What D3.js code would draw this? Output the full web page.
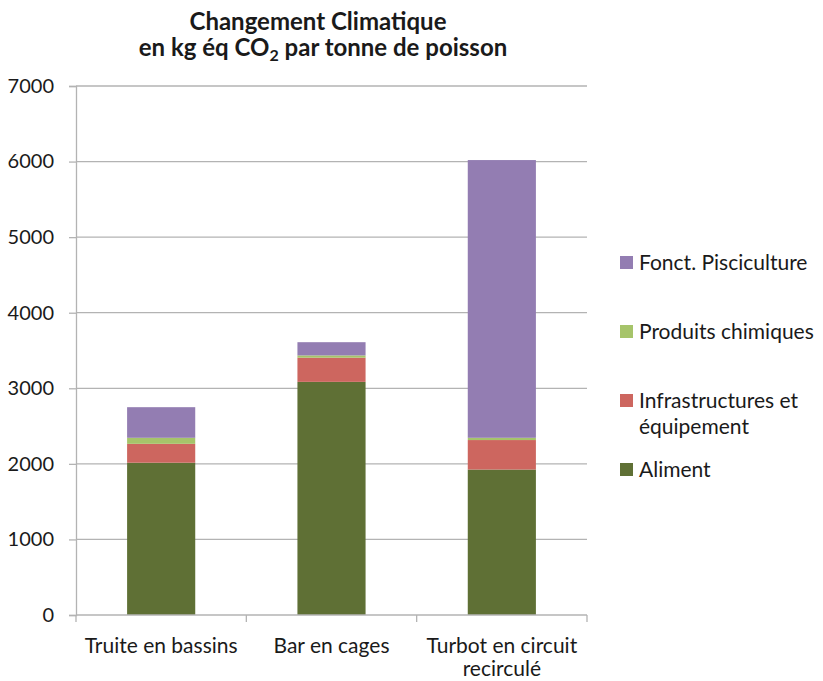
<!DOCTYPE html>
<html>
<head>
<meta charset="utf-8">
<script src="https://cdn.jsdelivr.net/npm/d3@7"></script>
<style>
body { margin: 0; background: #fff; }
text { font-family: Lato, "Open Sans", sans-serif; fill: #1a1a1a; }
</style>
</head>
<body>
<div id="chart"></div>
<script>
var categories = [["Truite en bassins"], ["Bar en cages"], ["Turbot en circuit", "recirculé"]];
var seriesNames = ["Aliment", "Infrastructures et équipement", "Produits chimiques", "Fonct. Pisciculture"];
var aliment = [2015, 3085, 1925];
var infra = [250, 320, 390];
var chimie = [80, 30, 30];
var fonct = [405, 175, 3675];
var yTicks = [0, 1000, 2000, 3000, 4000, 5000, 6000, 7000];
var colors = ["#5f7035", "#cd665f", "#a6c46a", "#937db2"];

var width = 823, height = 681;
var svg = d3.select("#chart").append("svg")
    .attr("width", width)
    .attr("height", height);

var x = d3.scaleBand()
    .domain(d3.range(categories.length))
    .range([76, 587])
    .paddingInner(0.6)
    .paddingOuter(0.3);
var y = d3.scaleLinear().domain([0, 7000]).range([615, 86]);

// gridlines
svg.append("g").selectAll("line")
    .data(yTicks.slice(1))
    .enter()
    .append("line")
    .attr("x1", 76).attr("x2", 587)
    .attr("y1", function(d){return y(d);})
    .attr("y2", function(d){return y(d);})
    .style("stroke", "#b3b3b3")
    .style("stroke-width", 1.3);

// stacked data
var rows = categories.map(function(c, i){
    return {i: i, a: aliment[i], b: infra[i], c: chimie[i], d: fonct[i]};
});
var stack = d3.stack().keys(["a", "b", "c", "d"]);
var layers = stack(rows);

svg.append("g").selectAll("g")
    .data(layers)
    .enter()
    .append("g")
    .style("fill", function(d, i){return colors[i];})
    .selectAll("rect")
    .data(function(d){return d;})
    .enter()
    .append("rect")
    .attr("x", function(d){return x(d.data.i);})
    .attr("width", x.bandwidth())
    .attr("y", function(d){return y(d[1]);})
    .attr("height", function(d){return y(d[0]) - y(d[1]);});

// y axis
var yAxis = svg.append("g")
    .attr("transform", "translate(76,0)")
    .call(d3.axisLeft(y).tickValues(yTicks).tickSize(7).tickPadding(15).tickFormat(d3.format("d")));
yAxis.select(".domain").style("stroke", "#b3b3b3").style("stroke-width", 1.3);
yAxis.selectAll(".tick line").style("stroke", "#b3b3b3").style("stroke-width", 1.3);
yAxis.selectAll("text").style("font-size", "20px").style("font-family", "Lato, sans-serif").attr("fill", "#1a1a1a");

// x axis line with category boundary ticks
var bounds = d3.range(categories.length + 1).map(function(i){return 76 + i * x.step();});
svg.append("line")
    .attr("x1", 76).attr("x2", 587)
    .attr("y1", y(0)).attr("y2", y(0))
    .style("stroke", "#b3b3b3").style("stroke-width", 1.3);
svg.append("g").selectAll("line")
    .data(bounds)
    .enter()
    .append("line")
    .attr("x1", function(d){return d;}).attr("x2", function(d){return d;})
    .attr("y1", y(0)).attr("y2", y(0) + 7)
    .style("stroke", "#b3b3b3").style("stroke-width", 1.3);

var catLabels = svg.append("g").selectAll("text")
    .data(categories)
    .enter()
    .append("text")
    .attr("x", function(d, i){return x(i) + x.bandwidth() / 2;})
    .attr("y", 653)
    .style("text-anchor", "middle")
    .style("font-size", "21px");
catLabels.selectAll("tspan")
    .data(function(d){return d;})
    .enter()
    .append("tspan")
    .attr("x", function(){return d3.select(this.parentNode).attr("x");})
    .attr("dy", function(d, j){return j === 0 ? 0 : 23;})
    .text(function(d){return d;});

// title
svg.append("text")
    .attr("x", 318).attr("y", 30)
    .style("text-anchor", "middle")
    .style("font-weight", "bold")
    .style("font-size", "24px")
    .text("Changement Climatique");
var t2 = svg.append("text")
    .attr("x", 323).attr("y", 56)
    .style("text-anchor", "middle")
    .style("font-weight", "bold")
    .style("font-size", "24px");
t2.append("tspan").text("en kg éq CO");
t2.append("tspan").attr("dy", 5).style("font-size", "16px").text("2");
t2.append("tspan").attr("dy", -5).text(" par tonne de poisson");

// legend
var legendItems = [
    {k: 3, y: 256, lines: ["Fonct. Pisciculture"]},
    {k: 2, y: 325, lines: ["Produits chimiques"]},
    {k: 1, y: 394, lines: ["Infrastructures et", "équipement"]},
    {k: 0, y: 463, lines: ["Aliment"]}
];
var legend = svg.append("g").selectAll("g")
    .data(legendItems)
    .enter()
    .append("g")
    .attr("transform", function(d){return "translate(620," + d.y + ")";});
legend.append("rect")
    .attr("width", 13).attr("height", 13)
    .style("fill", function(d){return colors[d.k];});
legend.append("text")
    .attr("x", 19)
    .attr("y", 6.5)
    .style("font-size", "21px")
    .selectAll("tspan")
    .data(function(d){return d.lines;})
    .enter()
    .append("tspan")
    .attr("x", 19)
    .attr("dy", function(d, j){return j === 0 ? "0.35em" : 26;})
    .text(function(d){return d;});
</script>
</body>
</html>
